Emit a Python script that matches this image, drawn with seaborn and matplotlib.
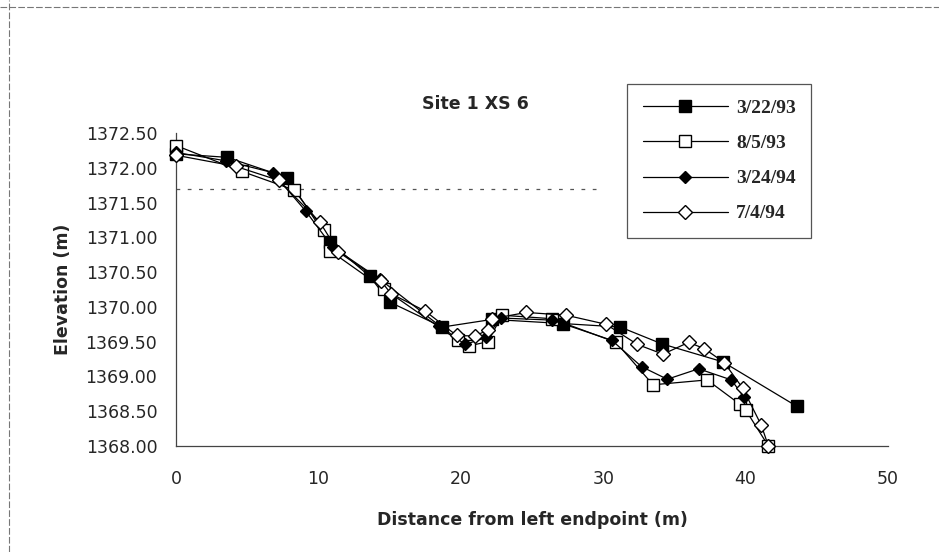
import numpy as np
import pandas as pd
import matplotlib
matplotlib.use("Agg")
import matplotlib.pyplot as plt
from matplotlib.lines import Line2D
import seaborn as sns

# ---- data ----
x_3_22_93 = [0, 3.6, 7.8, 10.8, 13.6, 15.0, 18.7, 22.2, 27.2, 31.2, 34.1, 38.4, 43.6]
y_3_22_93 = [1372.20, 1372.15, 1371.86, 1370.93, 1370.44, 1370.07, 1369.71, 1369.82,
             1369.76, 1369.71, 1369.47, 1369.21, 1368.57]

x_8_5_93 = [0, 4.6, 8.3, 10.4, 10.8, 14.6, 19.8, 20.6, 21.9, 22.9, 26.4, 30.9, 33.5,
            37.3, 39.6, 40.0, 41.6]
y_8_5_93 = [1372.32, 1371.95, 1371.68, 1371.11, 1370.81, 1370.26, 1369.52, 1369.44,
            1369.50, 1369.88, 1369.83, 1369.49, 1368.88, 1368.95, 1368.60, 1368.52, 1368.00]

x_3_24_94 = [0, 3.5, 6.8, 9.1, 11.0, 14.3, 18.5, 20.3, 21.8, 22.8, 26.4, 30.6, 32.7,
             34.5, 36.7, 39.0, 39.9]
y_3_24_94 = [1372.22, 1372.10, 1371.93, 1371.38, 1370.86, 1370.40, 1369.73, 1369.46,
             1369.56, 1369.84, 1369.81, 1369.52, 1369.14, 1368.96, 1369.11, 1368.95, 1368.70]

x_7_4_94 = [0, 4.2, 7.2, 10.1, 11.4, 14.4, 15.1, 17.5, 19.7, 21.0, 21.9, 22.2, 24.6,
            27.4, 30.2, 32.4, 34.2, 36.0, 37.1, 38.5, 39.8, 41.1, 41.6]
y_7_4_94 = [1372.18, 1372.02, 1371.82, 1371.22, 1370.79, 1370.37, 1370.19, 1369.94,
            1369.59, 1369.58, 1369.67, 1369.83, 1369.92, 1369.88, 1369.75, 1369.46,
            1369.32, 1369.49, 1369.40, 1369.20, 1368.83, 1368.30, 1368.00]

series_labels = ["3/22/93", "8/5/93", "3/24/94", "7/4/94"]
ref_level = 1371.70
ref_x_end = 30.0
x_ticks = [0, 10, 20, 30, 40, 50]
y_ticks = [1368.0, 1368.5, 1369.0, 1369.5, 1370.0, 1370.5, 1371.0, 1371.5, 1372.0, 1372.5]

title = "Site 1 XS 6"
xlabel = "Distance from left endpoint (m)"
ylabel = "Elevation (m)"

# ---- figure ----
sns.set_style("white")
plt.rcParams["font.family"] = ["DejaVu Sans"]
W, H = 939, 552
fig = plt.figure(figsize=(W / 100, H / 100), dpi=100)
fig.patch.set_facecolor("white")
ax = fig.add_axes([176 / W, 1 - 446 / H, (888 - 176) / W, (446 - 133) / H])
ax.set_facecolor("white")

styles = [
    dict(marker="s", markersize=8, markerfacecolor="black", markeredgecolor="black"),
    dict(marker="s", markersize=8.5, markerfacecolor="white", markeredgecolor="black"),
    dict(marker="D", markersize=6.5, markerfacecolor="black", markeredgecolor="black"),
    dict(marker="D", markersize=7.5, markerfacecolor="white", markeredgecolor="black"),
]
data = [(x_3_22_93, y_3_22_93), (x_8_5_93, y_8_5_93), (x_3_24_94, y_3_24_94), (x_7_4_94, y_7_4_94)]

for (xs, ys), lab, st in zip(data, series_labels, styles):
    df = pd.DataFrame({"x": xs, "y": ys})
    sns.lineplot(data=df, x="x", y="y", ax=ax, sort=False, color="black", linewidth=0.9,
                 label=lab, clip_on=False, markeredgewidth=1.0, zorder=3, **st)

# reference dashed line
ax.plot([0, ref_x_end], [ref_level, ref_level], color="#555555", linewidth=0.9,
        linestyle=(0, (3, 6)), zorder=1)

ax.set_xlim(0, 50)
ax.set_ylim(1368.0, 1372.5)
ax.set_xticks(x_ticks)
ax.set_yticks(y_ticks)
ax.set_xticklabels([str(v) for v in x_ticks], fontsize=12.5)
ax.set_yticklabels([f"{v:.2f}" for v in y_ticks], fontsize=12.5)
ax.tick_params(axis="both", direction="inout", length=7, width=0.8, color="#333333", pad=10)
ax.tick_params(axis="x", pad=14)

for s in ["top", "right"]:
    ax.spines[s].set_visible(False)
for s in ["left", "bottom"]:
    ax.spines[s].set_color("#444444")
    ax.spines[s].set_linewidth(0.9)

ax.set_xlabel(xlabel, fontsize=12.5, fontweight="bold", labelpad=16)
ax.set_ylabel(ylabel, fontsize=12.5, fontweight="bold", labelpad=10)
fig.text(475 / W, 1 - 104 / H, title, ha="center", va="center", fontsize=12.5, fontweight="bold")

leg = ax.legend(loc="upper left", bbox_to_anchor=(627 / W, 1 - 84 / H), bbox_transform=fig.transFigure,
                frameon=True, fancybox=False, edgecolor="#555555", framealpha=1,
                prop={"family": "Liberation Serif", "size": 14, "weight": "bold"},
                handlelength=4.4, handletextpad=0.4, labelspacing=0.9, borderpad=0.8,
                borderaxespad=0, numpoints=1)
leg.get_frame().set_linewidth(0.9)
leg.set_zorder(5)

# scanned page border lines
fig.add_artist(Line2D([0, 1], [1 - 7 / H, 1 - 7 / H], transform=fig.transFigure,
                      color="#777777", linewidth=0.8, linestyle=(0, (6, 2))))
fig.add_artist(Line2D([9 / W, 9 / W], [0, 1], transform=fig.transFigure,
                      color="#777777", linewidth=0.8, linestyle=(0, (6, 2))))

fig.savefig("out.png", dpi=100, facecolor="white")
